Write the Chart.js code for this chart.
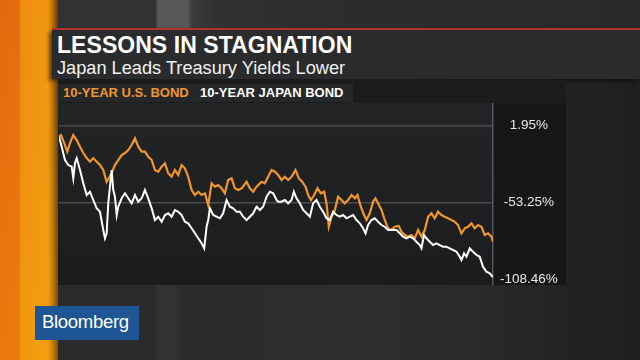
<!DOCTYPE html>
<html>
<head>
<meta charset="utf-8">
<script src="https://cdn.jsdelivr.net/npm/chart.js@4/dist/chart.umd.min.js"></script>
<style>
  html, body { margin:0; padding:0; }
  body { width:640px; height:360px; position:relative; overflow:hidden;
    background: linear-gradient(90deg, #2b2b2c 0px, #2b2b2c 155px, #333334 158px, #333334 175px, #2c2c2d 180px, #2d2d2e 380px, #2a2a2b 470px, #232324 560px, #1f1f20 640px);
    font-family: "Liberation Sans", Arial, sans-serif; }
  .abs { position:absolute; }
  #topband { left:58px; top:0; width:582px; height:28px;
    background: linear-gradient(90deg, #323233 0px, #323233 97px, #575758 100px, #575758 130px, #3b3b3c 134px, #303031 160px, #2c2c2d 300px, #29292a 582px); }
  #strip { left:0; top:0; width:58px; height:360px;
    background: linear-gradient(90deg, #e4680f 0px, #e66c10 19px, #ef8d12 21px, #f09612 48px, #b86a08 53px, #5a3a10 58px); }
  #strip2 { left:0; top:0; width:58px; height:360px;
    background: linear-gradient(180deg, rgba(255,255,255,0) 0%, rgba(255,200,0,0.18) 100%); }
  #redline { left:52px; top:28px; width:588px; height:2px; background:#b8302a; }
  #titlepanel { left:52px; top:30px; width:588px; height:49px; background:#2a2b2d; box-shadow:-3px 2px 4px rgba(0,0,0,0.5); }
  #title { left:57px; top:32px; font-weight:700; font-size:23px; color:#ffffff; white-space:nowrap; letter-spacing:0.05px; }
  #subtitle { left:57px; top:58px; font-size:18.2px; color:#f2f2f2; white-space:nowrap; }
  #legendrow { left:58px; top:80px; width:508px; height:23px; background:#1b1c1e; }
  #legendband { left:58px; top:84px; width:295px; height:18px; background:#262729; }
  #leg1 { left:63px; top:85px; font-weight:700; font-size:13px; color:#f0962a; white-space:nowrap; }
  #leg2 { left:200px; top:85px; font-weight:700; font-size:13px; color:#ffffff; white-space:nowrap; }
  #plotpanel { left:58px; top:103px; width:435px; height:182px; background: linear-gradient(180deg, #232426 0%, #1b1c1e 100%); }
  #axispanel { left:493px; top:103px; width:73px; height:182px; background:#161718; }
  #chartwrap { left:58px; top:103px; width:508px; height:182px; }
  #logo { left:35px; top:306px; width:104px; height:34px; background:#1d5595; }
  #logotext { left:42px; top:311px; font-size:18.5px; color:#ffffff; white-space:nowrap; letter-spacing:-0.3px; }
</style>
</head>
<body>
<div class="abs" id="topband"></div>
<div class="abs" id="strip"></div>
<div class="abs" id="strip2"></div>
<div class="abs" id="titlepanel"></div>
<div class="abs" id="redline"></div>
<div class="abs" id="title">LESSONS IN STAGNATION</div>
<div class="abs" id="subtitle">Japan Leads Treasury Yields Lower</div>
<div class="abs" id="legendrow"></div>
<div class="abs" id="legendband"></div>
<div class="abs" id="leg1">10-YEAR U.S. BOND</div>
<div class="abs" id="leg2">10-YEAR JAPAN BOND</div>
<div class="abs" id="plotpanel"></div>
<div class="abs" id="axispanel"></div>
<div class="abs" id="chartwrap"><canvas id="c" width="508" height="182"></canvas></div>
<div class="abs" id="logo"></div>
<div class="abs" id="logotext">Bloomberg</div>
<script>
// Series names
const seriesNames = ['10-YEAR U.S. BOND', '10-YEAR JAPAN BOND'];
// Right-axis tick labels (percent)
const tickValues = [1.95, -53.25, -108.46];

// Time position (percent of period) and values for the U.S. 10-year bond
const usTime = [0,0.46,1.38,1.91,2.53,3.29,4.08,4.84,5.60,6.38,7.14,7.90,8.68,9.44,10.20,10.98,11.51,12.13,12.89,13.65,
  14.44,15.20,15.96,16.74,17.50,18.26,19.04,19.80,20.56,21.35,22.11,22.87,23.65,24.41,25.17,25.95,26.71,27.47,28.25,29.01,
  29.77,30.56,31.32,32.08,32.86,33.62,34.38,35.16,35.92,36.68,37.46,38.22,38.98,39.77,40.53,41.29,42.07,43.22,43.98,44.74,
  45.52,46.67,47.43,48.19,48.98,49.74,50.50,51.28,52.04,52.80,53.58,54.50,55.26,56.02,56.81,57.41,58.03,58.79,59.57,60.33,
  61.09,61.64,62.17,62.79,63.55,64.31,65.10,65.85,66.61,67.40,68.16,68.78,69.54,70.30,70.85,71.61,72.37,72.92,73.52,74.31,
  75.07,75.83,76.61,77.37,78.29,78.91,79.67,80.43,81.21,81.97,82.73,83.52,84.28,85.04,85.82,86.58,87.34,88.12,88.88,89.64,
  90.42,91.18,91.94,92.73,93.49,94.25,95.03,95.79,96.55,97.33,98.09,98.85,99.63,100];
const usValues = [-6.08,-4.86,-12.03,-16.83,-10.60,-4.86,-8.45,-13.25,-17.77,-21.35,-24.00,-21.35,-24.00,-26.37,-29.95,-38.34,-35.69,-32.10,-26.37,-22.79,
  -19.20,-17.77,-15.62,-12.03,-7.23,-13.25,-16.83,-16.83,-20.42,-22.79,-29.95,-31.17,-27.59,-25.15,-32.32,-34.76,-29.95,-33.54,-26.37,-28.74,
  -34.76,-44.29,-47.88,-45.51,-47.88,-46.66,-55.05,-39.49,-41.93,-40.71,-43.07,-46.66,-37.12,-35.90,-43.07,-44.29,-43.07,-38.34,-43.07,-45.51,
  -41.93,-38.34,-39.49,-34.76,-29.95,-31.17,-33.54,-37.12,-34.76,-37.12,-34.76,-29.95,-35.90,-38.34,-41.93,-47.88,-51.46,-47.88,-43.07,-46.66,
  -45.51,-53.83,-70.61,-63.44,-58.63,-49.10,-51.46,-53.83,-51.46,-47.88,-50.24,-47.88,-56.27,-62.22,-65.80,-61.00,-52.68,-50.24,-53.83,-58.63,
  -65.80,-71.75,-72.97,-70.61,-70.10,-74.19,-76.56,-77.77,-76.56,-78.92,-72.97,-77.77,-72.97,-63.44,-61.00,-64.58,-59.85,-62.22,-63.44,-64.58,
  -65.80,-67.02,-69.39,-75.34,-71.75,-70.61,-68.17,-71.75,-69.39,-70.61,-76.56,-75.34,-77.77,-81.36];

// Time position (percent of period) and values for the Japan 10-year bond
const jpTime = [0,0.62,1.38,2.14,2.92,3.29,3.68,4.08,4.84,5.60,6.38,7.14,7.90,8.68,9.44,10.20,10.59,10.98,11.35,11.74,
  12.13,12.50,12.89,13.29,13.65,14.44,15.20,15.96,16.74,17.50,18.26,19.04,19.80,20.56,21.35,22.11,22.87,23.65,24.41,25.17,
  25.95,26.71,27.47,28.25,29.01,29.77,30.56,31.32,32.08,32.86,33.46,34.01,34.38,34.77,35.53,36.31,37.07,37.83,38.62,39.38,
  40.14,40.92,41.68,42.44,43.22,43.98,44.74,45.52,46.28,47.04,47.83,48.59,49.35,50.13,50.50,51.28,52.04,52.80,53.58,54.11,
  54.73,55.49,56.25,57.04,57.80,58.56,59.34,60.10,60.86,61.64,62.40,63.16,63.94,64.70,65.46,66.25,67.01,67.77,68.55,69.31,
  70.07,70.63,71.22,72.00,72.76,73.52,74.31,75.07,75.83,76.61,77.76,78.52,79.28,80.06,80.82,81.58,82.36,83.12,83.52,84.11,
  84.67,85.43,86.19,86.97,87.73,88.49,89.27,90.03,90.79,91.58,92.34,92.73,93.33,93.88,94.64,95.40,96.18,96.94,97.70,98.48,
  99.24,100];
const jpValues = [-6.08,-13.25,-22.79,-26.37,-27.59,-35.90,-25.15,-21.57,-29.95,-39.49,-47.88,-45.51,-51.46,-57.41,-59.85,-72.97,-78.92,-75.34,-53.83,-41.93,
  -29.95,-44.29,-49.10,-62.22,-56.27,-50.24,-46.66,-50.24,-53.83,-47.88,-52.68,-50.24,-44.29,-50.24,-57.41,-65.80,-63.44,-67.02,-62.22,-61.00,
  -63.44,-58.63,-59.85,-62.22,-67.02,-68.17,-71.75,-75.34,-78.92,-82.51,-86.09,-70.61,-65.80,-57.41,-62.22,-63.44,-64.58,-61.00,-51.46,-56.27,
  -57.41,-59.85,-59.85,-63.44,-65.80,-63.44,-61.00,-56.27,-58.63,-56.27,-49.10,-45.51,-46.66,-51.46,-52.68,-52.68,-51.46,-53.83,-51.46,-45.51,
  -50.24,-53.83,-58.63,-61.00,-63.44,-53.83,-51.46,-56.27,-59.85,-64.58,-65.80,-59.85,-62.22,-63.44,-62.22,-64.58,-63.44,-62.22,-65.80,-68.17,
  -71.75,-75.34,-69.39,-65.80,-64.58,-67.02,-69.39,-70.61,-72.97,-72.97,-72.97,-75.34,-77.77,-78.92,-77.77,-78.92,-81.36,-83.73,-86.09,-76.56,
  -78.92,-81.36,-83.73,-82.51,-83.73,-84.94,-84.94,-86.09,-87.31,-88.53,-92.11,-94.48,-89.68,-92.11,-86.09,-88.53,-90.89,-92.11,-99.28,-102.87,
  -104.01,-106.67];

const toPoints = (xs, ys) => xs.map((x, i) => ({ x: x, y: ys[i] }));

new Chart(document.getElementById('c'), {
  type: 'line',
  data: {
    datasets: [
      { label: seriesNames[0], data: toPoints(usTime, usValues), borderColor: '#f0962a', borderWidth: 2.2,
        pointRadius: 0, tension: 0, fill: false, order: 2 },
      { label: seriesNames[1], data: toPoints(jpTime, jpValues), borderColor: '#ffffff', borderWidth: 2,
        pointRadius: 0, tension: 0, fill: false, order: 1 }
    ]
  },
  options: {
    responsive: false, animation: false, devicePixelRatio: 1,
    layout: { autoPadding: false, padding: { left: 1, right: 0, top: 0, bottom: 0 } },
    plugins: { legend: { display: false }, tooltip: { enabled: false } },
    scales: {
      x: { type: 'linear', min: 0, max: 100, display: false },
      y: {
        position: 'right', min: -112.4, max: 18.1,
        afterBuildTicks: s => { s.ticks = tickValues.map(v => ({ value: v })); },
        afterFit: s => { s.width = 73; s.paddingTop = 0; s.paddingBottom = 0; },
        grid: { color: c => (c.index === 2 ? 'rgba(0,0,0,0)' : '#4a4b4d'), lineWidth: 1.5, drawTicks: false },
        border: { display: true, color: '#55565a', width: 1.5 },
        ticks: { color: '#e8e8e8', font: { family: 'Liberation Sans', size: 13.5 }, crossAlign: 'center', padding: 7,
          callback: v => v.toFixed(2) + '%' }
      }
    }
  }
});
</script>
</body>
</html>
